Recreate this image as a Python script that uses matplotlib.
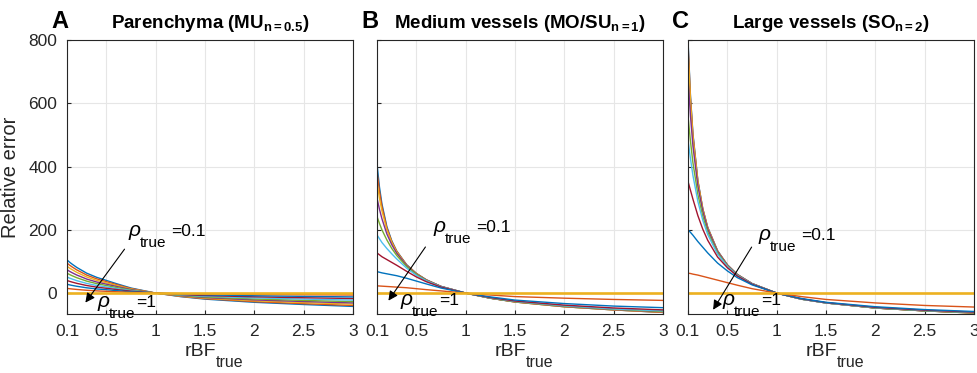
import matplotlib
matplotlib.use("Agg")
import matplotlib.pyplot as plt

plt.rcParams['font.family'] = ['Liberation Sans', 'DejaVu Sans']
plt.rcParams['mathtext.fontset'] = 'custom'
plt.rcParams['mathtext.rm'] = 'Liberation Sans'
plt.rcParams['mathtext.bf'] = 'Liberation Sans:bold'
plt.rcParams['mathtext.it'] = 'Liberation Sans:italic'

# rBF_true sample points
rbf = [0.1, 0.125, 0.15, 0.2, 0.25, 0.3, 0.4, 0.5, 0.6, 0.75, 1.0, 1.25, 1.5, 2.0, 2.5, 3.0]
rho = [0.1, 0.2, 0.3, 0.4, 0.5, 0.6, 0.7, 0.8, 0.9, 1.0]

# relative error (%), one row per rho_true
err_mu = [
    [105, 98, 92, 81, 72, 63, 50, 40, 30, 16, 0, -11, -19, -29, -36, -42],
    [95, 88.6, 83.2, 73.2, 65.2, 57, 45.2, 36.2, 27.2, 14.4, 0, -10.2, -17.6, -26.9, -33.4, -39],
    [85, 79.3, 74.5, 65.5, 58.3, 51, 40.5, 32.4, 24.3, 12.9, 0, -9.2, -15.8, -24.2, -30, -35],
    [74, 69, 64.8, 57, 50.8, 44.4, 35.2, 28.2, 21.2, 11.2, 0, -8.1, -14, -21.4, -26.6, -31],
    [63, 58.8, 55.2, 48.6, 43.2, 37.8, 30, 24, 18, 9.6, 0, -7.1, -12.2, -18.6, -23.1, -27],
    [51, 47.6, 44.7, 39.3, 35, 30.6, 24.3, 19.4, 14.6, 7.8, 0, -5.8, -9.9, -15.2, -18.9, -22],
    [40, 37.3, 35, 30.8, 27.4, 24, 19, 15.2, 11.4, 6.1, 0, -4.5, -7.7, -11.7, -14.6, -17],
    [28, 26.1, 24.5, 21.6, 19.2, 16.8, 13.3, 10.7, 8, 4.3, 0, -3.1, -5.4, -8.3, -10.3, -12],
    [15, 14, 13.1, 11.6, 10.3, 9, 7.1, 5.7, 4.3, 2.3, 0, -1.6, -2.7, -4.1, -5.1, -6],
    [0, 0, 0, 0, 0, 0, 0, 0, 0, 0, 0, 0, 0, 0, 0, 0],
]
err_mo = [
    [408, 335, 282, 210, 165, 133, 90, 62, 42, 21, 0, -16, -28, -43, -53, -61],
    [385, 322, 274, 206, 163, 132, 89, 62, 42, 21, 0, -16, -28, -43, -53, -61],
    [350, 300, 260, 200, 160, 130, 88, 61, 41, 21, 0, -16, -28, -43, -53, -60],
    [300, 265, 235, 187, 153, 126, 87, 60, 41, 21, 0, -16, -27, -42, -52, -59],
    [242, 220, 200, 168, 141, 119, 84, 59, 40, 20, 0, -16, -27, -41, -51, -58],
    [184, 172, 160, 141, 124, 108, 79, 56, 39, 20, 0, -15, -26, -40, -50, -56],
    [127, 121, 115, 106, 97, 88, 69, 51, 36, 19, 0, -14, -25, -38, -47, -53],
    [68, 66, 64, 61, 58, 55, 47, 38, 29, 16, 0, -12, -22, -33, -41, -46],
    [23, 22.5, 22, 21, 20, 19, 17, 14, 11, 7, 0, -6, -11, -16, -20, -23],
    [0, 0, 0, 0, 0, 0, 0, 0, 0, 0, 0, 0, 0, 0, 0, 0],
]
err_so = [
    [800, 623, 504, 356, 267, 208, 134, 89, 59, 30, 0, -19, -31, -47, -56, -63],
    [790, 618, 500, 354, 266, 207, 133, 89, 59, 30, 0, -19, -31, -47, -56, -63],
    [770, 605, 492, 350, 263, 205, 132, 88, 58, 30, 0, -19, -31, -47, -56, -63],
    [680, 560, 465, 338, 258, 202, 131, 88, 58, 30, 0, -19, -31, -47, -56, -62],
    [560, 480, 412, 312, 243, 193, 127, 86, 57, 29, 0, -19, -31, -47, -56, -62],
    [484, 425, 372, 290, 230, 185, 123, 84, 56, 29, 0, -19, -31, -46, -55, -61],
    [353, 325, 297, 245, 202, 167, 114, 80, 54, 28, 0, -18, -30, -45, -54, -60],
    [200, 192, 183, 163, 145, 127, 95, 70, 49, 26, 0, -17, -29, -43, -52, -58],
    [63, 62, 60, 57, 53, 49, 41, 33, 25, 14, 0, -11, -20, -31, -39, -44],
    [0, 0, 0, 0, 0, 0, 0, 0, 0, 0, 0, 0, 0, 0, 0, 0],
]

titles = [r'Parenchyma (MU$_{\mathbf{n=0.5}}$)',
          r'Medium vessels (MO/SU$_{\mathbf{n=1}}$)',
          r'Large vessels (SO$_{\mathbf{n=2}}$)']
letters = ['A', 'B', 'C']
xticks = [0.1, 0.5, 1, 1.5, 2, 2.5, 3]
xticklabels = ['0.1', '0.5', '1', '1.5', '2', '2.5', '3']
yticks = [0, 200, 400, 600, 800]

# matlab default line colours
colors = ['#0072BD', '#D95319', '#EDB120', '#7E2F8E', '#77AC30',
          '#4DBEEE', '#A2142F']

# annotation spots per panel (data coords): rho=0.1 label, arrow tail, arrow head, rho=1 label
lab01 = [(0.72, 181), (0.668, 194), (0.81, 168)]
tails = [(0.70, 146), (0.607, 153), (0.76, 153)]
heads = [(0.27, -37), (0.20, -31), (0.34, -60)]
lab1 = [(0.404, -43), (0.333, -37), (0.445, -37)]


def rho_label(ax, xy, tail):
    ax.annotate(r'$\rho$', xy=xy, fontsize=15, va='baseline', annotation_clip=False)
    ax.annotate('true', xy=xy, xytext=(8.5, -8), textcoords='offset points',
                fontsize=11, va='baseline', annotation_clip=False)
    ax.annotate(tail, xy=xy, xytext=(31 if tail == '=0.1' else 28, 0),
                textcoords='offset points', fontsize=12.5, va='baseline',
                annotation_clip=False)


fig = plt.figure(figsize=(9.77, 3.73), dpi=100)
lefts = [67, 377, 688]
for k, data in enumerate([err_mu, err_mo, err_so]):
    ax = fig.add_axes([lefts[k] / 977, (373 - 314) / 373, 286 / 977, 274 / 373])
    for i, row in enumerate(data):
        lw = 1.9 if rho[i] == 1.0 else 1.0
        ax.plot(rbf, row, color=colors[i % 7], lw=lw)
    ax.set_xlim(0.1, 3)
    ax.set_ylim(-66, 800)
    ax.set_xticks(xticks)
    ax.set_xticklabels(xticklabels)
    ax.set_yticks(yticks)
    if k > 0:
        ax.set_yticklabels([])
    else:
        ax.set_ylabel('Relative error', fontsize=14.5, color='#262626', labelpad=6)
    ax.grid(True, color='#e6e6e6', lw=0.8)
    ax.set_axisbelow(True)
    ax.tick_params(labelsize=12.5, direction='in', length=3, colors='#262626', pad=7)
    for s in ax.spines.values():
        s.set_color('#262626')
        s.set_linewidth(0.8)
    # x label built from two pieces so the subscript sits low like the original
    ax.text(0.521, -0.152, 'rBF', transform=ax.transAxes, fontsize=14,
            ha='right', va='baseline', color='#262626')
    ax.text(0.521, -0.195, 'true', transform=ax.transAxes, fontsize=11.5,
            ha='left', va='baseline', color='#262626')
    ax.set_title(titles[k], fontsize=13.5, fontweight='bold', pad=9)
    ax.text(-0.026, 1.045, letters[k], transform=ax.transAxes, fontsize=17,
            fontweight='bold', ha='center', va='baseline')
    ax.annotate('', xy=heads[k], xytext=tails[k],
                arrowprops=dict(arrowstyle='-|>', color='black', lw=0.8,
                                mutation_scale=14), annotation_clip=False)
    rho_label(ax, lab01[k], '=0.1')
    rho_label(ax, lab1[k], '=1')

fig.savefig('out.png', dpi=100)
